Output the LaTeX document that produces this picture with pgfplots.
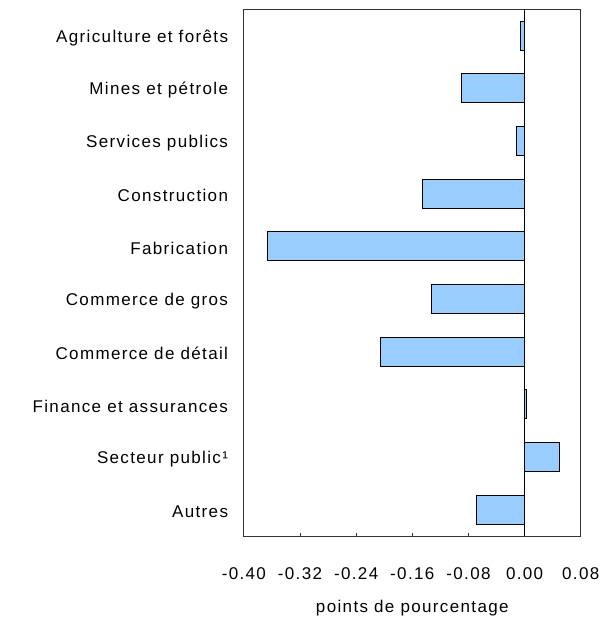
\documentclass[border=0pt]{standalone}
\usepackage{fontspec}
\setmainfont[LetterSpace=8]{Liberation Sans}
\usepackage{pgfplots}
\pgfplotsset{compat=1.18}
\usetikzlibrary{calc}
\definecolor{barblue}{HTML}{99CCFF}

\begin{document}
\fontsize{17pt}{20pt}\selectfont
\begin{tikzpicture}
\begin{axis}[
  name=ax,
  scale only axis,
  width=337pt, height=527pt,
  xbar, bar width=29pt,
  xmin=-0.40, xmax=0.08,
  ymin=-0.5, ymax=9.5,
  y dir=reverse,
  xtick={-0.40,-0.32,-0.24,-0.16,-0.08,0,0.08},
  xticklabels={-0.40,-0.32,-0.24,-0.16,-0.08,0.00,0.08},
  ytick={0,1,2,3,4,5,6,7,8,9},
  yticklabels={Agriculture et forêts,Mines et pétrole,Services publics\ ,Construction,Fabrication,Commerce de gros,Commerce de détail,Finance et assurances,Secteur public¹,Autres},
  xtick pos=bottom, tick align=inside,
  major tick length=3pt,
  ytick style={draw=none},
  axis line style={black!80, line width=0.9pt},
  tick style={black!80, line width=0.9pt},
  tick label style={font=\fontsize{17pt}{20pt}\selectfont},
  xticklabel style={yshift=-26pt},
  yticklabel style={xshift=-10pt, yshift=-2pt},
  xlabel={points de pourcentage},
  xlabel style={font=\fontsize{17pt}{20pt}\selectfont, yshift=-9pt},
  extra x ticks={0},
  extra x tick labels={},
  extra x tick style={grid=major, major grid style={black, line width=0.9pt}, major tick length=0pt},
]
\addplot[fill=barblue, draw=black, line width=0.8pt] coordinates {
  (-0.006,0) (-0.090,1) (-0.012,2) (-0.146,3) (-0.367,4)
  (-0.133,5) (-0.205,6) (0.003,7) (0.050,8) (-0.069,9)
};
\end{axis}
\pgfresetboundingbox
\path[use as bounding box] ($(ax.south west)+(-244pt,-85pt)$) rectangle ($(ax.north east)+(31pt,9.3pt)$);
\end{tikzpicture}
\end{document}
